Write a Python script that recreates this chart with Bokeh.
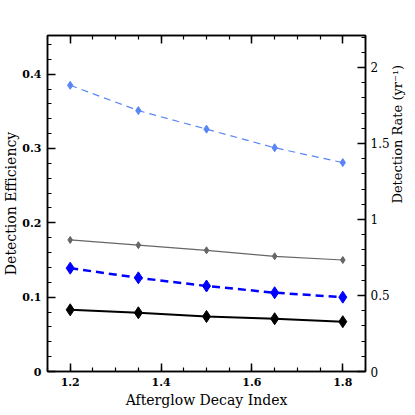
import math
from bokeh.plotting import figure
from bokeh.models import (LinearAxis, Range1d, FixedTicker, CustomJSTickFormatter)
from bokeh.embed import file_html
from bokeh.resources import INLINE

# ---- data ----
decay_index = [1.2, 1.35, 1.5, 1.65, 1.8]
eff_lightblue = [0.385, 0.351, 0.326, 0.301, 0.281]
eff_gray = [0.177, 0.170, 0.163, 0.155, 0.150]
eff_blue = [0.139, 0.126, 0.115, 0.106, 0.100]
eff_black = [0.083, 0.079, 0.074, 0.071, 0.067]

x_major = [1.2, 1.4, 1.6, 1.8]
x_minor = [round(1.15 + 0.05 * i, 2) for i in range(15)]
yl_major = [0, 0.1, 0.2, 0.3, 0.4]
yl_minor = [round(0.02 * i, 2) for i in range(23)]
yr_major = [0, 0.5, 1, 1.5, 2]
yr_minor = [round(0.1 * i, 1) for i in range(23)]

SERIF = "DejaVu Serif"

p = figure(width=415, height=415, output_backend="svg", toolbar_location=None,
           x_range=Range1d(1.15, 1.85), y_range=Range1d(0, 0.452),
           min_border_left=45, min_border_right=44, min_border_top=35,
           min_border_bottom=44, x_axis_location=None, y_axis_location=None)
p.extra_y_ranges = {"rate": Range1d(0, 2.21)}
p.grid.visible = False
p.outline_line_color = "black"
p.outline_line_width = 1.5
p.background_fill_color = "white"
p.border_fill_color = "white"

fmt = CustomJSTickFormatter(code="return Number(tick.toFixed(2)).toString();")
blank = CustomJSTickFormatter(code="return '';")


def style_axis(ax, major, minor):
    ax.ticker = FixedTicker(ticks=major, minor_ticks=minor)
    ax.formatter = fmt
    ax.axis_line_color = "black"
    ax.axis_line_width = 1.5
    ax.major_tick_in = 8
    ax.major_tick_out = 0
    ax.minor_tick_in = 4
    ax.minor_tick_out = 0
    ax.major_tick_line_width = 1.5
    ax.minor_tick_line_width = 1.2
    ax.major_label_text_font = SERIF
    ax.major_label_text_font_style = "bold"
    ax.major_label_text_font_size = "11px"
    ax.major_label_text_color = "black"
    ax.major_label_standoff = 6
    ax.axis_label_text_font = SERIF
    ax.axis_label_text_font_style = "normal"
    ax.axis_label_text_font_size = "14px"
    ax.axis_label_text_color = "black"
    ax.axis_label_standoff = 3


xb = LinearAxis(axis_label="Afterglow Decay Index")
style_axis(xb, x_major, x_minor)
p.add_layout(xb, "below")

xt = LinearAxis()
style_axis(xt, x_major, x_minor)
xt.formatter = blank
xt.major_label_standoff = 0
p.add_layout(xt, "above")

yl = LinearAxis(axis_label="Detection Efficiency")
style_axis(yl, yl_major, yl_minor)
yl.major_label_orientation = "horizontal"
yl.major_label_standoff = 6
yl.axis_label_standoff = 0
p.add_layout(yl, "left")

yr = LinearAxis(y_range_name="rate", axis_label="Detection Rate (yr\u207b\u00b9)")
style_axis(yr, yr_major, yr_minor)
yr.major_label_text_font_style = "normal"
yr.major_label_text_font_size = "12px"
yr.major_label_standoff = 5
yr.axis_label_text_font_size = "13px"
yr.axis_label_orientation = math.pi / 2
yr.axis_label_standoff = 5
p.add_layout(yr, "right")

# ---- series ----
p.line(decay_index, eff_lightblue, line_color="#5a86f5", line_width=1.2, line_dash="7 5")
p.scatter(decay_index, eff_lightblue, marker="diamond", size=8,
          fill_color="#5a86f5", line_color="#5a86f5")

p.line(decay_index, eff_gray, line_color="#666666", line_width=1.2)
p.scatter(decay_index, eff_gray, marker="diamond", size=7,
          fill_color="#666666", line_color="#666666")

p.line(decay_index, eff_blue, line_color="#0000ff", line_width=2.5, line_dash="8 5")
p.scatter(decay_index, eff_blue, marker="diamond", size=12,
          fill_color="#0000ff", line_color="#0000ff")

p.line(decay_index, eff_black, line_color="black", line_width=2)
p.scatter(decay_index, eff_black, marker="diamond", size=12,
          fill_color="black", line_color="black")

open("out.html", "w").write(file_html(p, INLINE))
